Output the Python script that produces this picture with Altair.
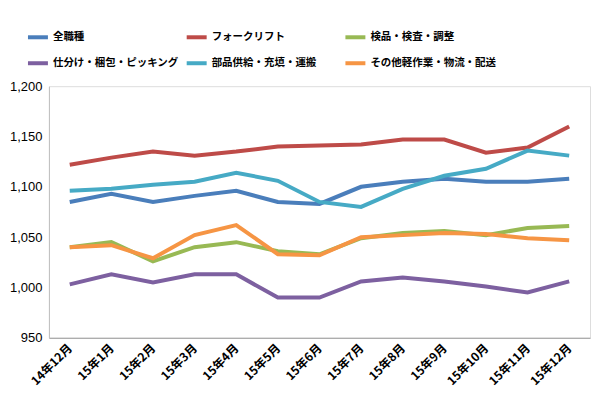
import altair as alt
import pandas as pd

months = ["14年12月", "15年1月", "15年2月", "15年3月", "15年4月", "15年5月", "15年6月",
          "15年7月", "15年8月", "15年9月", "15年10月", "15年11月", "15年12月"]

series_names = ["全職種", "フォークリフト", "検品・検査・調整",
                "仕分け・梱包・ピッキング", "部品供給・充填・運搬", "その他軽作業・物流・配送"]

all_jobs =   [1085, 1093, 1085, 1091, 1096, 1085, 1083, 1100, 1105, 1108, 1105, 1105, 1108]
forklift =   [1122, 1129, 1135, 1131, 1135, 1140, 1141, 1142, 1147, 1147, 1134, 1139, 1160]
inspection = [1040, 1045, 1026, 1040, 1045, 1036, 1033, 1049, 1054, 1056, 1052, 1059, 1061]
sorting =    [1003, 1013, 1005, 1013, 1013, 990, 990, 1006, 1010, 1006, 1001, 995, 1006]
parts =      [1096, 1098, 1102, 1105, 1114, 1106, 1085, 1080, 1098, 1111, 1118, 1136, 1131]
other =      [1040, 1042, 1029, 1052, 1062, 1033, 1032, 1050, 1052, 1054, 1053, 1049, 1047]

colors = ["#4A7EBB", "#BE4B48", "#98B954", "#7D60A0", "#46AAC5", "#F69544"]

rows = []
for name, vals in zip(series_names, [all_jobs, forklift, inspection, sorting, parts, other]):
    for m, v in zip(months, vals):
        rows.append({"month": m, "series": name, "value": v})
df = pd.DataFrame(rows)

jp_font = "Noto Sans CJK JP"

chart = alt.Chart(df).mark_line(strokeWidth=4).encode(
    x=alt.X("month:N", sort=months, title=None,
            scale=alt.Scale(type="point", padding=0.5),
            axis=alt.Axis(labelAngle=-45, labelAlign="right", labelBaseline="middle",
                          labelPadding=8, ticks=False, domainColor="#9a9a9a",
                          labelFont=jp_font, labelFontWeight="bold", labelFontSize=12,
                          labelColor="#000000")),
    y=alt.Y("value:Q", title=None,
            scale=alt.Scale(domain=[950, 1200], nice=False, zero=False),
            axis=alt.Axis(values=[950, 1000, 1050, 1100, 1150, 1200], format=",.0f",
                          grid=False, ticks=False, domainColor="#c0c0c0",
                          labelPadding=7, labelFont="Liberation Sans", labelFontSize=13,
                          labelColor="#000000")),
    color=alt.Color("series:N", sort=series_names,
                    scale=alt.Scale(domain=series_names, range=colors),
                    legend=alt.Legend(title=None, orient="none", legendX=-23, legendY=-61,
                                      direction="horizontal", columns=3, gridAlign="all",
                                      symbolType="stroke", symbolStrokeWidth=4, symbolSize=400,
                                      columnPadding=0, rowPadding=6, labelOffset=3,
                                      labelFont=jp_font, labelFontWeight="bold",
                                      labelFontSize=10.5, labelColor="#000000",
                                      labelLimit=300)),
    order=alt.value(0),
).properties(
    width=542, height=252,
    autosize=alt.AutoSizeParams(type="none"),
    padding={"left": 41, "top": 78, "right": 2, "bottom": 55},
).configure_view(stroke=None).configure(background="#ffffff")

chart.save("out.html", embed_options={"renderer": "svg", "actions": False})
